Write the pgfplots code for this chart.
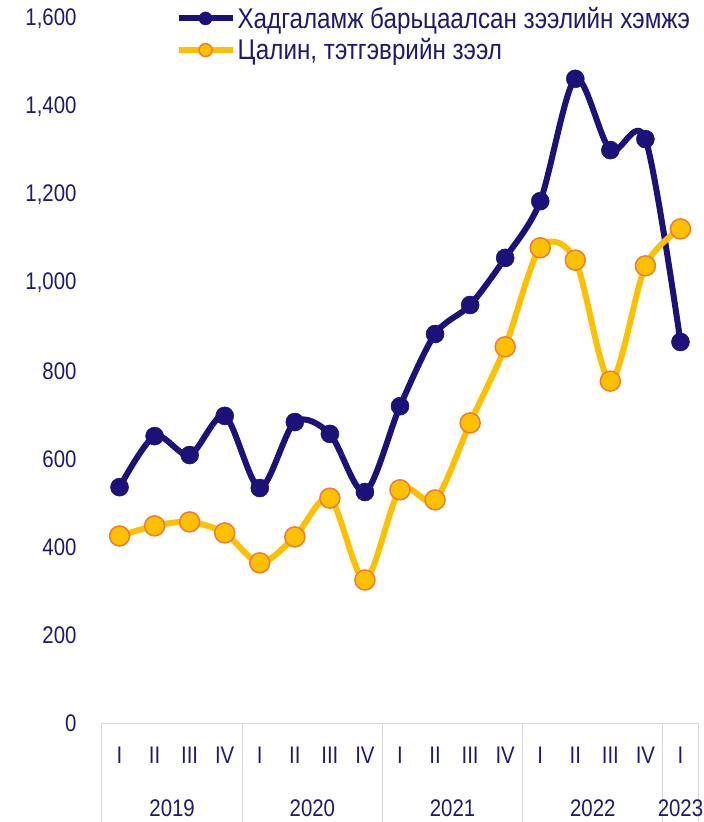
\documentclass[border=0pt]{standalone}
\usepackage{fontspec}
\setmainfont{Liberation Sans}[FakeStretch=0.85]
\usepackage{pgfplots}
\pgfplotsset{compat=1.18}
\definecolor{navy}{RGB}{28,17,120}
\definecolor{gold}{RGB}{255,192,0}
\definecolor{edge}{RGB}{237,125,49}
\definecolor{txt}{RGB}{30,26,110}
\definecolor{sep}{RGB}{217,217,217}
\begin{document}
\begin{tikzpicture}
\useasboundingbox (-102pt,-99pt) rectangle (602pt,723pt);
\begin{axis}[
  scale only axis, width=596pt, height=704pt,
  xmin=-0.5, xmax=16.5, ymin=0, ymax=1600,
  clip=false,
  axis x line=bottom, axis y line=left,
  x axis line style={sep, line width=1pt, -},
  y axis line style={draw=none},
  major tick length=0pt,
  xtick={0,...,16},
  xticklabels={I,II,III,IV,I,II,III,IV,I,II,III,IV,I,II,III,IV,I},
  ytick={0,200,...,1600},
  /pgf/number format/assume math mode=true,
  /pgf/number format/1000 sep={,},
  ticklabel style={font=\fontsize{24}{28}\selectfont, text=txt},
  xticklabel style={anchor=center, yshift=-32pt},
  yticklabel style={anchor=east, xshift=-22pt},
  legend style={draw=none, fill=none, at={(0.123,1.02)}, anchor=north west,
    font=\fontsize{28.5}{31}\selectfont, text=txt, cells={anchor=west}, inner sep=0pt,
    row sep=5pt},
  legend image code/.code={\draw[#1, mark size=6.5pt, mark repeat=2,mark phase=2] plot coordinates {(0pt,0pt) (27pt,0pt) (54pt,0pt)};},
]
\addplot[navy, line width=6pt, smooth, tension=0.5, mark=*, mark size=9pt,
  mark options={fill=navy, draw=navy, line width=0.5pt}] coordinates {
(0,536) (1,652) (2,609) (3,698) (4,534) (5,684) (6,657) (7,525)
(8,720) (9,884) (10,950) (11,1057) (12,1186) (13,1464) (14,1302) (15,1327) (16,866)};
\addlegendentry{Хадгаламж барьцаалсан зээлийн хэмжэ}
\addplot[gold, line width=6pt, smooth, tension=0.5, mark=*, mark size=10pt,
  mark options={fill=gold, draw=edge, line width=1.5pt}] coordinates {
(0,425) (1,448) (2,457) (3,432) (4,364) (5,423) (6,511) (7,325)
(8,530) (9,507) (10,682) (11,855) (12,1080) (13,1052) (14,777) (15,1039) (16,1123)};
\addlegendentry{Цалин, тэтгэврийн зээл}
\pgfplotsinvokeforeach{-0.5,3.5,7.5,11.5,15.5,16.5}{
  \draw[sep, line width=1pt] (axis cs:#1,0) -- ++(0pt,-99pt);
}
\node[text=txt, font=\fontsize{24}{28}\selectfont] at ([yshift=-85pt]axis cs:1.5,0) {2019};
\node[text=txt, font=\fontsize{24}{28}\selectfont] at ([yshift=-85pt]axis cs:5.5,0) {2020};
\node[text=txt, font=\fontsize{24}{28}\selectfont] at ([yshift=-85pt]axis cs:9.5,0) {2021};
\node[text=txt, font=\fontsize{24}{28}\selectfont] at ([yshift=-85pt]axis cs:13.5,0) {2022};
\node[text=txt, font=\fontsize{24}{28}\selectfont] at ([yshift=-85pt]axis cs:16,0) {2023};
\end{axis}
\end{tikzpicture}
\end{document}
